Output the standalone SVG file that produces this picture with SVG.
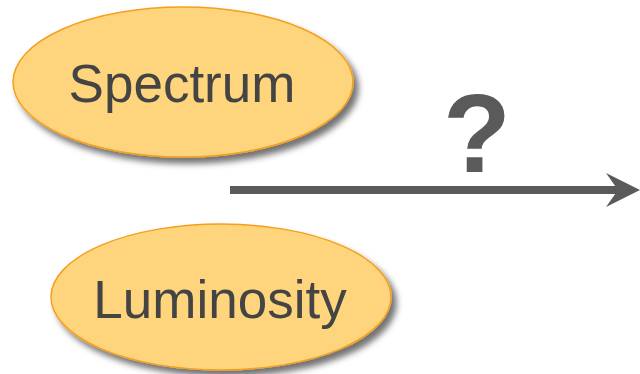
<svg xmlns="http://www.w3.org/2000/svg" width="640" height="374" viewBox="0 0 640 374">
  <style>
    .node { fill: #fed47b; stroke: #f5a01e; stroke-width: 1.5; filter: url(#shadow); }
    .label { font-family: "Liberation Sans", Arial, sans-serif; font-size: 53px; fill: #444444; text-anchor: middle; }
    .q { font-family: "Liberation Sans", Arial, sans-serif; font-size: 111px; font-weight: bold; fill: #5a5a5a; text-anchor: middle; }
    .edge { stroke: #5a5a5a; stroke-width: 8; fill: none; }
  </style>
  <defs>
    <filter id="shadow" x="-10%" y="-10%" width="125%" height="130%">
      <feGaussianBlur in="SourceAlpha" stdDeviation="3"/>
      <feOffset dx="5" dy="6" result="b"/>
      <feFlood flood-color="#000" flood-opacity="0.55"/>
      <feComposite in2="b" operator="in"/>
      <feMerge>
        <feMergeNode/>
        <feMergeNode in="SourceGraphic"/>
      </feMerge>
    </filter>
  </defs>
  <rect width="640" height="374" fill="#ffffff"/>
  <g id="spectrum">
    <ellipse class="node" cx="183" cy="82" rx="170" ry="75"/>
    <text class="label" x="182" y="102">Spectrum</text>
  </g>
  <g id="luminosity">
    <ellipse class="node" cx="221" cy="297" rx="170" ry="73"/>
    <text class="label" x="220" y="318">Luminosity</text>
  </g>
  <g id="connectors">
    <line class="edge" x1="230" y1="190" x2="626" y2="190"/>
    <path d="M606,173 L640,190 L606,207 L618,190 Z" fill="#5a5a5a"/>
    <text class="q" x="477" y="172">?</text>
  </g>
</svg>
